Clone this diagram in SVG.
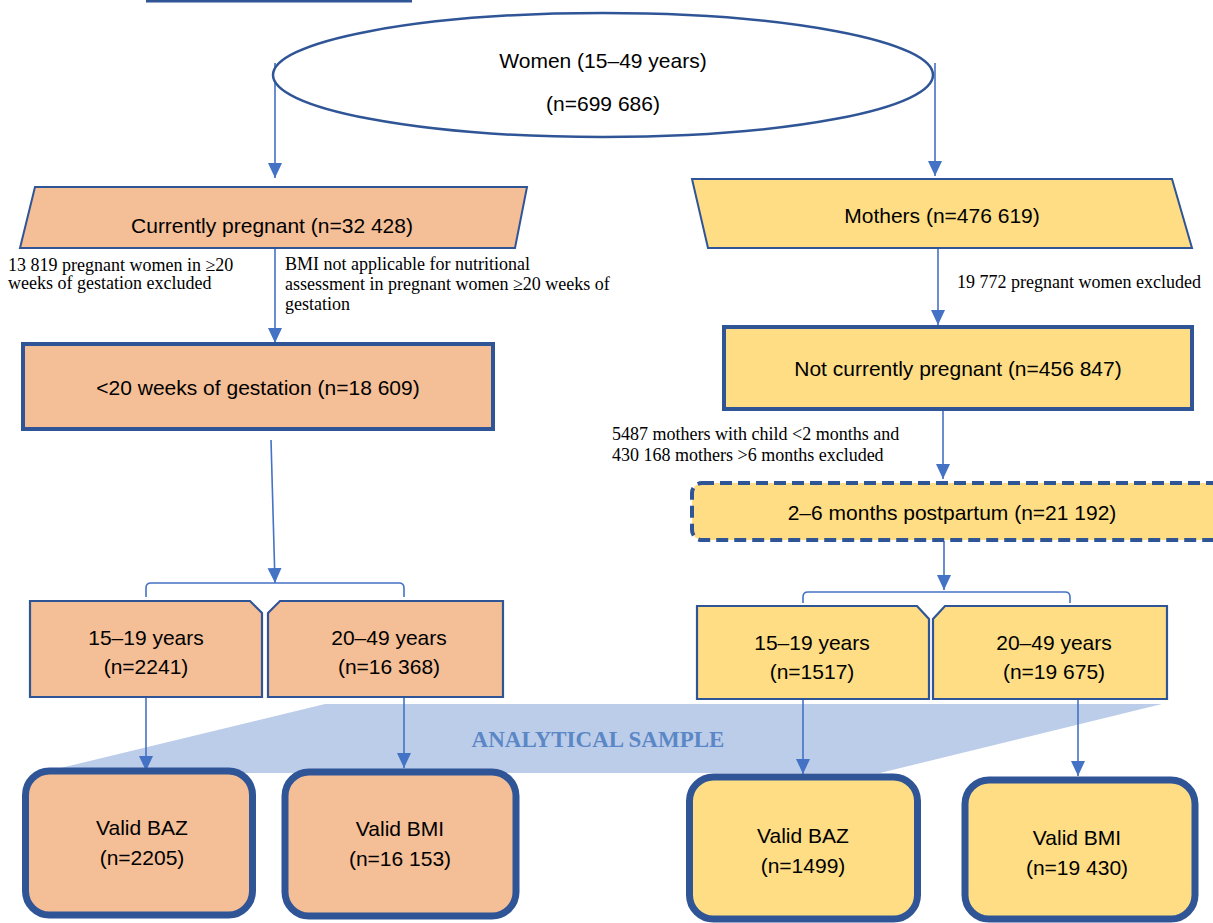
<svg xmlns="http://www.w3.org/2000/svg" width="1213" height="923" viewBox="0 0 1213 923">
<defs>
<marker id="ah" markerUnits="userSpaceOnUse" markerWidth="16" markerHeight="16" viewBox="0 0 16 16" refX="15" refY="8" orient="auto">
<path d="M0,1 L15,8 L0,15 Z" fill="#4472C4"/>
</marker>
<style>
.lbl{font-family:"Liberation Sans",Arial,sans-serif;font-size:21px;fill:#000;text-anchor:middle}
.note{font-family:"Liberation Serif","Times New Roman",serif;font-size:18px;fill:#000}
.con{stroke:#4472C4;stroke-width:1.6;fill:none}
.arr{stroke:#4472C4;stroke-width:1.6;fill:none;marker-end:url(#ah)}
.pk{fill:#F4BE96;stroke:#2F5597}
.yl{fill:#FEDD84;stroke:#2F5597}
.valid{stroke-width:7}
</style>
</defs>
<rect width="1213" height="923" fill="#fff"/>
<line x1="146" y1="1" x2="412" y2="1" stroke="#2F5597" stroke-width="3"/>

<g id="band">
<polygon points="325,704 1162,704 880,773 40,773" fill="#BCCDEA"/>
<text x="598" y="747" font-family="Liberation Serif,'Times New Roman',serif" font-weight="bold" font-size="23" fill="#5B87C6" text-anchor="middle">ANALYTICAL SAMPLE</text>
</g>

<g id="connectors">
<line class="arr" x1="275" y1="63" x2="275" y2="178"/>
<line class="arr" x1="935" y1="63" x2="935" y2="176"/>
<line class="arr" x1="275" y1="248" x2="275" y2="343"/>
<line class="arr" x1="938" y1="248" x2="938" y2="325"/>
<line class="arr" x1="943" y1="410" x2="943" y2="479"/>
<line class="arr" x1="271" y1="440" x2="275" y2="583"/>
<path class="con" d="M146,597 V588 Q146,583 151,583 H399 Q404,583 404,588 V597"/>
<line class="arr" x1="944" y1="541" x2="944" y2="590"/>
<path class="con" d="M803,603 V597 Q803,592 808,592 H1065 Q1070,592 1070,597 V603"/>
<line class="arr" x1="146" y1="697" x2="146" y2="771"/>
<line class="arr" x1="404" y1="697" x2="404" y2="768"/>
<line class="arr" x1="803" y1="699" x2="803" y2="774"/>
<line class="arr" x1="1078" y1="699" x2="1078" y2="776"/>
</g>

<g id="women">
<ellipse cx="603" cy="75" rx="330" ry="62" fill="#fff" stroke="#2F5597" stroke-width="2.5"/>
<text class="lbl" x="603" y="68">Women (15–49 years)</text>
<text class="lbl" x="603" y="111">(n=699 686)</text>
</g>

<g id="pregnant">
<polygon class="pk" stroke-width="2" points="35,187 527,187 515,248 20,248"/>
<text class="lbl" x="272" y="233">Currently pregnant (n=32 428)</text>
</g>
<g id="note-preg">
<text class="note" x="8" y="271">13 819 pregnant women in ≥20</text>
<text class="note" x="8" y="289">weeks of gestation excluded</text>
<text class="note" x="285" y="270">BMI not applicable for nutritional</text>
<text class="note" x="285" y="290">assessment in pregnant women ≥20 weeks of</text>
<text class="note" x="285" y="310">gestation</text>
</g>

<g id="lt20">
<rect class="pk" x="23" y="344" width="470" height="85" stroke-width="4"/>
<text class="lbl" x="258" y="395">&lt;20 weeks of gestation (n=18 609)</text>
</g>

<g id="mothers">
<polygon class="yl" stroke-width="2" points="692,179 1172,179 1192,248 708,248"/>
<text class="lbl" x="942" y="223">Mothers (n=476 619)</text>
</g>
<text class="note" x="957" y="288">19 772 pregnant women excluded</text>

<g id="notpreg">
<rect class="yl" x="724" y="327" width="468" height="82" stroke-width="4"/>
<text class="lbl" x="958" y="376">Not currently pregnant (n=456 847)</text>
</g>
<g id="note-post">
<text class="note" x="612" y="440">5487 mothers with child &lt;2 months and</text>
<text class="note" x="612" y="461">430 168 mothers &gt;6 months excluded</text>
</g>

<g id="postpartum">
<rect class="yl" x="692" y="483" width="530" height="57" rx="10" stroke-width="4" stroke-dasharray="12,6"/>
<text class="lbl" x="952" y="520">2–6 months postpartum (n=21 192)</text>
</g>

<g id="preg-1519">
<path class="pk" stroke-width="2.2" d="M30,601 H250 L262,613 V697 H30 Z"/>
<text class="lbl" x="146" y="645">15–19 years</text>
<text class="lbl" x="146" y="674">(n=2241)</text>
</g>
<g id="preg-2049">
<path class="pk" stroke-width="2.2" d="M268,613 L280,601 H503 V697 H268 Z"/>
<text class="lbl" x="389" y="645">20–49 years</text>
<text class="lbl" x="389" y="674">(n=16 368)</text>
</g>
<g id="moth-1519">
<path class="yl" stroke-width="2.2" d="M697,606 H917 L929,619 V699 H697 Z"/>
<text class="lbl" x="812" y="650">15–19 years</text>
<text class="lbl" x="812" y="679">(n=1517)</text>
</g>
<g id="moth-2049">
<path class="yl" stroke-width="2.2" d="M933,619 L945,606 H1167 V699 H933 Z"/>
<text class="lbl" x="1054" y="650">20–49 years</text>
<text class="lbl" x="1054" y="679">(n=19 675)</text>
</g>

<g id="preg-baz">
<rect class="pk valid" x="25.5" y="771" width="227" height="144" rx="24"/>
<text class="lbl" x="142" y="835">Valid BAZ</text>
<text class="lbl" x="142" y="865">(n=2205)</text>
</g>
<g id="preg-bmi">
<rect class="pk valid" x="285" y="772" width="231" height="144" rx="24"/>
<text class="lbl" x="400" y="836">Valid BMI</text>
<text class="lbl" x="400" y="866">(n=16 153)</text>
</g>
<g id="moth-baz">
<rect class="yl valid" x="689.5" y="777" width="228" height="142" rx="24"/>
<text class="lbl" x="803" y="843">Valid BAZ</text>
<text class="lbl" x="803" y="873">(n=1499)</text>
</g>
<g id="moth-bmi">
<rect class="yl valid" x="965" y="780" width="230" height="139" rx="24"/>
<text class="lbl" x="1077" y="845">Valid BMI</text>
<text class="lbl" x="1077" y="875">(n=19 430)</text>
</g>
</svg>
